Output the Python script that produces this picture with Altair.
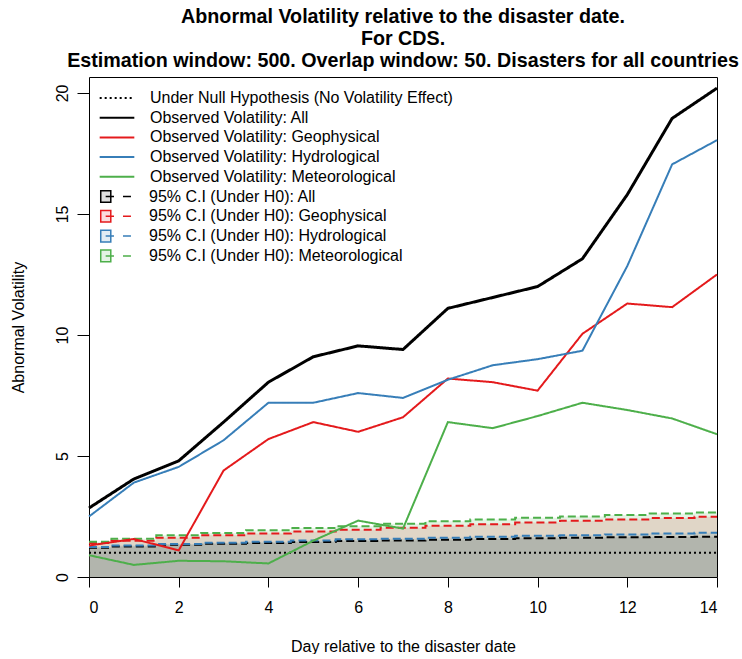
import altair as alt
import pandas as pd

days = list(range(15))

obs_labels = [
    "Under Null Hypothesis (No Volatility Effect)",
    "Observed Volatility: All",
    "Observed Volatility: Geophysical",
    "Observed Volatility: Hydrological",
    "Observed Volatility: Meteorological",
]
null_h0 = [1.0] * 15
obs_all = [2.85, 4.05, 4.8, 6.4, 8.05, 9.1, 9.55, 9.4, 11.1, 11.55, 12.0, 13.15, 15.8, 18.95, 20.2]
obs_geo = [1.3, 1.57, 1.1, 4.4, 5.7, 6.4, 6.0, 6.6, 8.2, 8.05, 7.7, 10.05, 11.3, 11.15, 12.5]
obs_hyd = [2.5, 3.9, 4.55, 5.65, 7.2, 7.2, 7.6, 7.4, 8.15, 8.75, 9.0, 9.35, 12.85, 17.05, 18.05]
obs_met = [0.9, 0.5, 0.67, 0.65, 0.56, 1.5, 2.33, 2.0, 6.4, 6.15, 6.65, 7.2, 6.9, 6.55, 5.9]

ci_labels = [
    "95% C.I (Under H0): All",
    "95% C.I (Under H0): Geophysical",
    "95% C.I (Under H0): Hydrological",
    "95% C.I (Under H0): Meteorological",
]
ci_all = [1.21, 1.26, 1.33, 1.37, 1.41, 1.45, 1.49, 1.51, 1.54, 1.57, 1.60, 1.62, 1.64, 1.65, 1.66]
ci_geo = [1.40, 1.50, 1.62, 1.72, 1.80, 1.88, 1.95, 2.03, 2.12, 2.18, 2.25, 2.32, 2.38, 2.44, 2.49]
ci_hyd = [1.24, 1.30, 1.36, 1.42, 1.46, 1.51, 1.56, 1.58, 1.62, 1.66, 1.70, 1.73, 1.76, 1.80, 1.83]
ci_met = [1.46, 1.58, 1.72, 1.82, 1.93, 2.02, 2.10, 2.20, 2.30, 2.38, 2.45, 2.50, 2.56, 2.62, 2.66]

obs_colors = ["#000000", "#000000", "#E41A1C", "#377EB8", "#4DAF4A"]
obs_dashes = [[2, 3], [1, 0], [1, 0], [1, 0], [1, 0]]
obs_widths = [2, 3, 2, 2, 2]
ci_colors = ["#000000", "#E41A1C", "#377EB8", "#4DAF4A"]
ci_fills = ["rgba(0,0,0,0.13)", "rgba(228,26,28,0.15)", "rgba(55,126,184,0.15)", "rgba(77,175,74,0.15)"]

obs_rows = []
for lab, vals, w in zip(obs_labels, [null_h0, obs_all, obs_geo, obs_hyd, obs_met], obs_widths):
    for d, v in zip(days, vals):
        obs_rows.append({"day": d, "value": v, "series": lab, "lw": w})
obs_df = pd.DataFrame(obs_rows)

ci_rows = []
for lab, vals in zip(ci_labels, [ci_all, ci_geo, ci_hyd, ci_met]):
    for d, v in zip(days, vals):
        ci_rows.append({"day": d, "value": v, "ci": lab})
ci_df = pd.DataFrame(ci_rows)

FONT = "Liberation Sans"

xenc = alt.X("day:Q", scale=alt.Scale(domain=[0, 14], nice=False),
             axis=alt.Axis(values=[0, 2, 4, 6, 8, 10, 12, 14], title="Day relative to the disaster date",
                           tickSize=10, labelPadding=12, titlePadding=23))
yscale = alt.Scale(domain=[0, 20.66], nice=False, zero=False)
yaxis = alt.Axis(values=[0, 5, 10, 15, 20], title="Abnormal Volatility",
                 tickSize=12, labelPadding=10, labelAngle=-90, labelAlign="center",
                 labelBaseline="alphabetic", titlePadding=28)
yenc = alt.Y("value:Q", scale=yscale, axis=yaxis, stack=None)

ci_legend = alt.Legend(orient="none", legendX=18, legendY=110, title=None,
                       symbolType="M-1.82,-0.67H-0.66V0.67H-1.82Z M-1.25,0H-0.29 M0.75,0H1.67",
                       symbolSize=300, labelOffset=23, rowPadding=0.8, symbolStrokeWidth=1.5)
obs_legend = alt.Legend(orient="none", legendX=18, legendY=11, title=None,
                        symbolType="M-2,0H2", symbolSize=300, labelOffset=23, rowPadding=1.7,
                        symbolStrokeWidth=2)

areas = alt.Chart(ci_df).mark_area(interpolate="step", strokeWidth=0).encode(
    x=xenc,
    y=yenc,
    fill=alt.Fill("ci:N", scale=alt.Scale(domain=ci_labels, range=ci_fills), legend=ci_legend),
)

ci_lines = alt.Chart(ci_df).mark_line(interpolate="step", strokeWidth=2, strokeDash=[8, 4]).encode(
    x=xenc,
    y=yenc,
    stroke=alt.Stroke("ci:N", scale=alt.Scale(domain=ci_labels, range=ci_colors), legend=ci_legend),
)

obs_lines = alt.Chart(obs_df).mark_line().encode(
    x=xenc,
    y=yenc,
    color=alt.Color("series:N", scale=alt.Scale(domain=obs_labels, range=obs_colors), legend=obs_legend),
    strokeDash=alt.StrokeDash("series:N", scale=alt.Scale(domain=obs_labels, range=obs_dashes), legend=obs_legend),
    strokeWidth=alt.StrokeWidth("lw:Q", scale=None, legend=None),
)

chart = alt.layer(areas, ci_lines, obs_lines).properties(
    width=628,
    height=500,
    padding={"left": 10, "top": 7, "right": 0, "bottom": 0},
    background="white",
    title=alt.TitleParams(
        text=["Abnormal Volatility relative to the disaster date.", "For CDS.",
              "Estimation window: 500. Overlap window: 50. Disasters for all countries"],
        font=FONT, fontSize=19.7, fontWeight="bold", anchor="middle", lineHeight=22, offset=6, color="black"),
).configure_view(
    stroke="black", strokeWidth=1
).configure_axis(
    grid=False, domain=False, tickColor="black", labelColor="black", titleColor="black",
    labelFont=FONT, titleFont=FONT, labelFontSize=16, titleFontSize=16, titleFontWeight="normal",
).configure_legend(
    labelFont=FONT, labelFontSize=16, labelColor="black", labelLimit=600, padding=0,
)

chart.save("out.html", embed_options={"renderer": "svg", "actions": False})
